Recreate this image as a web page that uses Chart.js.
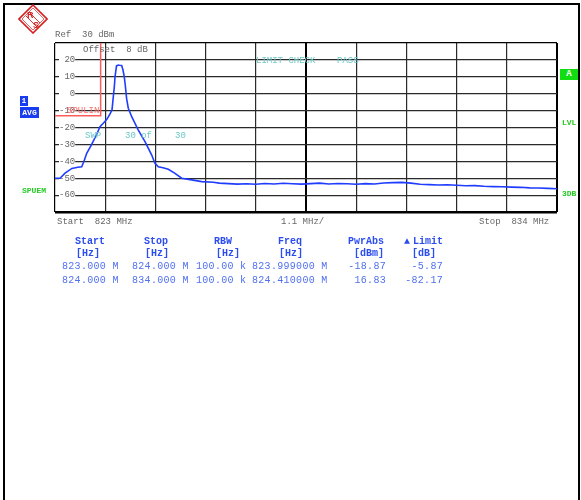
<!DOCTYPE html>
<html>
<head>
<meta charset="utf-8">
<script src="https://cdn.jsdelivr.net/npm/chart.js@4.4.1/dist/chart.umd.min.js"></script>
<style>
  body { margin: 0; background: #fff; }
  #wrap { position: relative; width: 581px; height: 500px; overflow: hidden; font-family: 'Liberation Mono', monospace; }
  #frame { position: absolute; left: 3px; top: 3px; width: 573px; height: 510px; border: 2px solid #000; }
  canvas { position: absolute; left: 0; top: 0; }
  .t { position: absolute; white-space: pre; font-size: 9px; line-height: 10px; }
  .gray { color: #666; }
  .teal { color: #6cc8c8; }
  .green { color: #22cc22; font-weight: bold; font-size: 8px; }
  .box { background: #1a3cf0; color: #fff; font-weight: bold; font-size: 8px; text-align: center; }
  .gbox { background: #11dd11; color: #fff; font-weight: bold; font-size: 9px; text-align: center; }
  .red { color: #ff7070; }
  .hd { position: absolute; white-space: pre; font-size: 10px; line-height: 11px; font-weight: bold; color: #2a4cf0; }
  .cell { position: absolute; white-space: pre; font-size: 10px; line-height: 11px; color: #5070f0; letter-spacing: 0.3px; }
</style>
</head>
<body>
<div id="wrap">
  <div id="frame"></div>
  <canvas id="spectrum" width="581" height="500"></canvas>

  <svg style="position:absolute;left:18px;top:4px" width="30" height="30" viewBox="0 0 30 30">
    <polygon points="15,1 29,15 15,29 1,15" fill="#fff" stroke="#d42020" stroke-width="1.6"/>
    <polygon points="15,4 26,15 15,26 4,15" fill="none" stroke="#d42020" stroke-width="0.7"/>
    <line x1="8" y1="12" x2="19" y2="23" stroke="#d42020" stroke-width="0.9"/>
    <line x1="11" y1="8" x2="22" y2="19" stroke="#d42020" stroke-width="0.9"/>
    <text x="9" y="14" font-family="Liberation Sans" font-weight="bold" font-size="9" fill="#d42020">R</text>
    <text x="15" y="24" font-family="Liberation Sans" font-weight="bold" font-size="9" fill="#d42020">S</text>
  </svg>

  <div class="t gray" style="left:55px;top:30px">Ref  30 dBm</div>
  <div class="t gray" style="left:83px;top:45px">Offset  8 dB</div>
  <div class="t teal" style="left:256px;top:56px">LIMIT CHECK    PASS</div>
  <div class="t red"  style="left:67px;top:106px">SPULIN</div>
  <div class="t teal" style="left:85px;top:131px">SWP</div>
  <div class="t teal" style="left:125px;top:131px">30 of</div>
  <div class="t teal" style="left:175px;top:131px">30</div>

  <div class="t box" style="left:20px;top:96px;width:8px;height:10px;line-height:10px">1</div>
  <div class="t box" style="left:20px;top:107px;width:19px;height:11px;line-height:11px">AVG</div>
  <div class="t green" style="left:22px;top:186px">SPUEM</div>
  <div class="t gbox" style="left:560px;top:69px;width:18px;height:11px;line-height:11px">A</div>
  <div class="t green" style="left:562px;top:118px">LVL</div>
  <div class="t green" style="left:562px;top:189px">3DB</div>

  <div class="t gray" style="left:57px;top:217px">Start  823 MHz</div>
  <div class="t gray" style="left:281px;top:217px">1.1 MHz/</div>
  <div class="t gray" style="left:479px;top:217px">Stop  834 MHz</div>

  <div id="table"></div>
</div>

<script>
// trace 1 (AVG), frequency in MHz, level in dBm
const traceFreq = [
  823.000, 823.110, 823.220, 823.370, 823.500, 823.585, 823.635, 823.695, 823.804, 823.914,
  823.986, 824.058, 824.140, 824.205, 824.249, 824.277, 824.300, 824.315, 824.348, 824.387,
  824.410, 824.461, 824.490, 824.518, 824.540, 824.570, 824.606, 824.681, 824.753, 824.825,
  824.972, 825.119, 825.191, 825.264, 825.366, 825.483, 825.629, 825.776, 825.995, 826.214,
  826.469, 826.600, 826.800, 827.000, 827.200, 827.400, 827.600, 827.800, 828.000, 828.200,
  828.400, 828.600, 828.800, 829.000, 829.200, 829.400, 829.600, 829.800, 830.000, 830.200,
  830.400, 830.600, 830.800, 831.000, 831.200, 831.400, 831.600, 831.800, 832.000, 832.200,
  832.400, 832.600, 832.800, 833.000, 833.200, 833.400, 833.600, 833.800, 834.000
];
const traceLevel = [
  -50.0, -50.0, -47.0, -44.2, -43.5, -43.2, -40.0, -35.3, -30.0, -24.0,
  -19.5, -17.5, -15.0, -12.0, -9.6, -2.0, 4.0, 10.0, 16.5, 16.9,
  16.8, 16.7, 14.0, 10.0, 5.0, -3.0, -8.6, -13.6, -17.5, -21.5,
  -28.4, -36.3, -41.2, -43.2, -43.8, -44.7, -47.1, -50.0, -51.0, -52.0,
  -52.4, -52.9, -53.2, -53.5, -53.3, -53.6, -53.1, -53.4, -53.0, -53.3,
  -53.5, -53.2, -52.9, -53.4, -53.1, -53.3, -53.6, -53.2, -53.4, -52.8,
  -52.6, -52.5, -52.9, -53.6, -53.8, -54.0, -53.9, -54.2, -54.5, -54.4,
  -54.8, -55.0, -55.1, -55.3, -55.4, -55.7, -55.8, -56.0, -56.2
];

// limit line SPULIN
const limitFreq = [823, 824, 824];
const limitLevel = [-13, -13, 30];

// axis settings
const refLevel = 30;
const dbPerDiv = 10;
const divisions = 10;
const startMHz = 823;
const stopMHz = 834;

// result table
const tableHeads = ['Start', 'Stop', 'RBW', 'Freq', 'PwrAbs', 'Limit'];
const tableUnits = ['[Hz]', '[Hz]', '[Hz]', '[Hz]', '[dBm]', '[dB]'];
const rowStart = ['823.000 M', '824.000 M'];
const rowStop = ['824.000 M', '834.000 M'];
const rowRbw = ['100.00 k', '100.00 k'];
const rowFreq = ['823.999000 M', '824.410000 M'];
const rowPwr = ['-18.87', '16.83'];
const rowLimit = ['-5.87', '-82.17'];

// build the table
const tbl = document.getElementById('table');
function put(cls, text, left, top, right) {
    const d = document.createElement('div');
    d.className = cls;
    d.textContent = text;
    d.style.top = top + 'px';
    if (right !== undefined) {
        d.style.right = (581 - right) + 'px';
    } else {
        d.style.left = left + 'px';
    }
    tbl.appendChild(d);
}
const headX = [75, 144, 214, 278, 348, 413];
const unitX = [76, 145, 216, 279, 354, 412];
tableHeads.forEach((h, i) => put('hd', h, headX[i], 236));
put('hd', '\u25B2', 404, 236);
tableUnits.forEach((u, i) => put('hd', u, unitX[i], 248));
for (let r = 0; r < 2; r++) {
    const y = 261 + r * 13.5;
    put('cell', rowStart[r], 62, y);
    put('cell', rowStop[r], 132, y);
    put('cell', rowRbw[r], 196, y);
    put('cell', rowFreq[r], 252, y);
    put('cell', rowPwr[r], 0, y, 386);
    put('cell', rowLimit[r], 0, y, 443);
}

const ctx = document.getElementById('spectrum').getContext('2d');
new Chart(ctx, {
    type: 'line',
    data: {
        datasets: [
            {
                label: 'Trace 1',
                data: traceFreq.map((f, i) => ({ x: f, y: traceLevel[i] })),
                borderColor: '#1f3cff',
                borderWidth: 1.6,
                pointRadius: 0,
                tension: 0
            },
            {
                label: 'SPULIN',
                data: limitFreq.map((f, i) => ({ x: f, y: limitLevel[i] })),
                borderColor: '#ff5c5c',
                borderWidth: 1.5,
                pointRadius: 0,
                tension: 0
            }
        ]
    },
    options: {
        responsive: false,
        animation: false,
        layout: { padding: { left: 55, top: 43, right: 24, bottom: 288 } },
        plugins: { legend: { display: false }, tooltip: { enabled: false } },
        scales: {
            x: {
                type: 'linear',
                min: startMHz,
                max: stopMHz,
                afterFit: (axis) => { axis.height = 0; },
                afterBuildTicks: (axis) => {
                    const step = (stopMHz - startMHz) / divisions;
                    axis.ticks = [];
                    for (let i = 0; i <= divisions; i++) axis.ticks.push({ value: startMHz + i * step });
                },
                ticks: { display: false },
                border: { display: false },
                grid: {
                    drawTicks: false,
                    color: (c) => (c.index === 5 || c.index === 10 || c.index === 0) ? '#000' : '#2a2a2a',
                    lineWidth: (c) => (c.index === 5 || c.index === 10) ? 2 : 1.2
                }
            },
            y: {
                min: refLevel - dbPerDiv * divisions,
                max: refLevel,
                afterFit: (axis) => { axis.width = 0; },
                ticks: {
                    stepSize: dbPerDiv,
                    mirror: true,
                    padding: 4,
                    color: '#666',
                    font: { family: "'Liberation Mono', monospace", size: 9 },
                    showLabelBackdrop: true,
                    backdropColor: '#fff',
                    backdropPadding: 0,
                    callback: (v) => (v === refLevel || v === refLevel - dbPerDiv * divisions) ? '' : String(v).padStart(3, ' ')
                },
                border: { display: false },
                grid: {
                    drawTicks: false,
                    color: (c) => (c.index === 0 || c.index === 10) ? '#000' : '#2a2a2a',
                    lineWidth: (c) => (c.index === 0) ? 2.5 : 1.2
                }
            }
        }
    }
});
</script>
</body>
</html>
